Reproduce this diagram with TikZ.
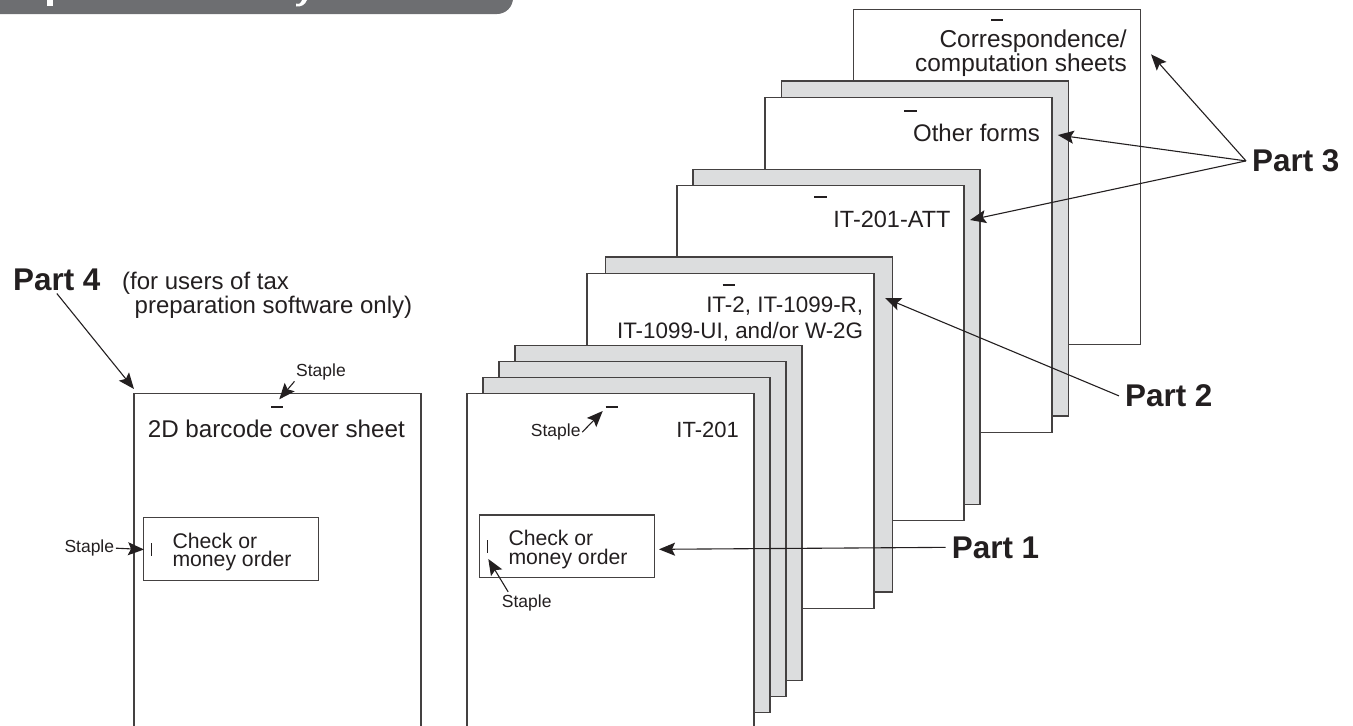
\documentclass[tikz,border=0pt]{standalone}
\usepackage{fontspec}
\setmainfont{Liberation Sans}
\usepackage{xcolor}
\usetikzlibrary{arrows.meta,calc}
\definecolor{inkdark}{RGB}{35,31,32}
\definecolor{headgrey}{RGB}{109,110,113}
\definecolor{backgrey}{RGB}{220,221,222}

\begin{document}
\begin{tikzpicture}[
    x=1pt, y=-1pt,
    sheet/.style={rectangle, draw=inkdark!85, line width=1.2pt, fill=white, inner sep=0pt, outer sep=0pt,
                  minimum width=287pt, minimum height=335pt, anchor=north west},
    backsheet/.style={sheet, fill=backgrey},
    chkbox/.style={rectangle, draw=inkdark!85, line width=1.2pt, fill=white, inner sep=0pt, outer sep=0pt,
                   minimum width=175pt, minimum height=62.5pt, anchor=north west},
    formtext/.style={font=\fontsize{24}{23.5}\selectfont, text=inkdark, inner sep=0pt, align=right, anchor=base east},
    chktext/.style={font=\fontsize{21.2}{18.7}\selectfont, text=inkdark, inner sep=0pt, align=left, anchor=base west},
    stapletext/.style={font=\fontsize{17.5}{20}\selectfont, text=inkdark, inner sep=1.5pt, anchor=base west},
    partlabel/.style={font=\fontsize{31.4}{34}\selectfont\bfseries, text=inkdark, inner xsep=6pt, inner ysep=3pt, anchor=base west},
    staplemark/.style={draw=inkdark, line width=1.6pt},
    pointer/.style={draw=inkdark, line width=1.1pt, -{Stealth[length=16pt, width=13pt, inset=3pt]}}
]
    \clip (0,0) rectangle (1353,726);
    % heading band, cut by the page edge
    \fill[headgrey, rounded corners=16pt] (-30,-30) rectangle (513,14);
    \fill[white] (46.5,0) rectangle (53,6);
    \fill[white] (296,3.5) .. controls (299,4.5) and (301,3.5) .. (302,0) -- (307,0) .. controls (305,5) and (301,7) .. (296,6.5) -- cycle;

    % part 3 sheets
    \node[sheet] (corr) at (853.5,9.5) {};
    \node[backsheet] (otherback) at (781.5,81) {};
    \node[sheet] (other) at (765,97.3) {};
    \node[backsheet] (attback) at (693,169.3) {};
    \node[sheet] (att) at (677,185.3) {};
    % part 2 sheets
    \node[backsheet] (wageback) at (605.5,257) {};
    \node[sheet] (wage) at (587,273.3) {};
    % part 1 sheets
    \node[backsheet] (mainc) at (515,345.3) {};
    \node[backsheet] (mainb) at (499,361.3) {};
    \node[backsheet] (maina) at (483,377.3) {};
    \node[sheet, minimum height=360pt] (main) at (467,393.5) {};
    \node[chkbox] (checkmain) at (479.5,515) {};
    % part 4 sheet
    \node[sheet, minimum height=360pt] (cover) at (134,393.7) {};
    \node[chkbox] (checkcover) at (143.5,517.7) {};

    % staples
    \draw[staplemark] (991,20) -- (1003,20);
    \draw[staplemark] (904,111) -- (916.5,111);
    \draw[staplemark] (814,196.7) -- (827,196.7);
    \draw[staplemark] (722.7,284.7) -- (734.7,284.7);
    \draw[staplemark] (605.7,407) -- (617.7,407);
    \draw[staplemark] (271,407) -- (283.3,407);
    \draw[staplemark, line width=1.2pt] (487.7,540) -- (487.7,553);
    \draw[staplemark, line width=1.2pt] (151.7,543.3) -- (151.7,556);

    % form names
    \node[formtext, font=\fontsize{24.4}{23.5}\selectfont] (corrname) at (1127,71.7) {Correspondence/\\[0.4pt]computation sheets};
    \node[formtext] (othername) at (1040,141.7) {Other forms};
    \node[formtext, font=\fontsize{23.5}{24}\selectfont] (attname) at (950.7,227.7) {IT-201-ATT};
    \node[formtext, font=\fontsize{22.4}{26}\selectfont] (wagename) at (863.3,338.7) {IT-2, IT-1099-R,\\IT-1099-UI, and/or W-2G};
    \node[formtext, font=\fontsize{22}{24}\selectfont] (mainname) at (739,437.7) {IT-201};
    \node[formtext, font=\fontsize{24.2}{26}\selectfont] (covername) at (405,437.7) {2D barcode cover sheet};
    \node[chktext] (paymain) at (508.3,564) {Check or\\money order};
    \node[chktext] (paycover) at (172.3,566.7) {Check or\\money order};

    % part labels
    \node[partlabel] (partthree) at (1246,171.7) {Part 3};
    \node[partlabel] (parttwo) at (1119,406.7) {Part 2};
    \node[partlabel] (partone) at (945.7,558) {Part 1};
    \node[partlabel] (partfour) at (7,290) {Part 4};
    \node[font=\fontsize{24}{22}\selectfont, text=inkdark, inner sep=0pt, align=left, anchor=base west] (partfournote) at (122,313) {(for users of tax\\\hspace*{12.5pt}preparation software only)};

    % staple labels
    \node[stapletext] (staplecover) at (294.5,376) {Staple};
    \node[stapletext] (stapleside) at (62.8,552.7) {Staple};
    \node[stapletext] (staplemain) at (529.2,436.7) {Staple};
    \node[stapletext] (staplecheck) at (500.2,607.3) {Staple};

    % arrow tips
    \coordinate (tipcorr) at (1151,54.3);
    \coordinate (tipother) at (1057.8,135);
    \coordinate (tipatt) at (970,220);
    \coordinate (tipwage) at (885,298);
    \coordinate (tipmain) at (659,549.3);
    \coordinate (tipcover) at (134,389);
    \coordinate (tipstaplecover) at (279.3,399.3);
    \coordinate (tipstapleside) at (144,549.5);
    \coordinate (tipstaplemain) at (602.7,411);
    \coordinate (tipstaplecheck) at (488.3,559);

    \draw[pointer] (partthree.west) -- (tipcorr);
    \draw[pointer] (partthree.west) -- (tipother);
    \draw[pointer] (partthree.west) -- (tipatt);
    \draw[pointer] (parttwo.west) -- (tipwage);
    \draw[pointer] (partone.west) -- (tipmain);
    \draw[pointer] (partfour.south) -- (tipcover);
    \draw[pointer] (staplecover.south west) -- (tipstaplecover);
    \draw[pointer] (stapleside.east) -- (tipstapleside);
    \draw[pointer] (staplemain.east) -- (tipstaplemain);
    \draw[pointer] ($(staplecheck.north west)+(8,-1)$) -- (tipstaplecheck);
\end{tikzpicture}
\end{document}
